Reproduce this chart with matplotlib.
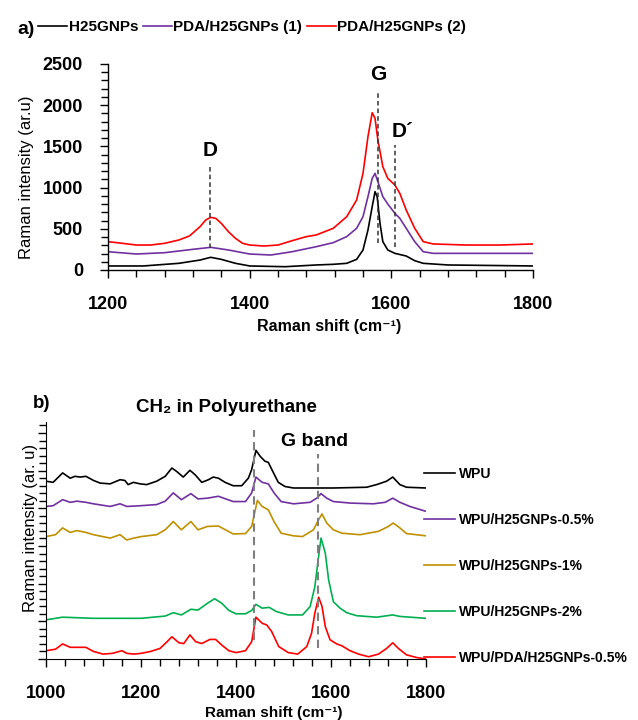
import matplotlib
matplotlib.use("Agg")
import matplotlib.pyplot as plt
from matplotlib.ticker import MultipleLocator, NullFormatter

plt.rcParams['font.family'] = ['Liberation Sans', 'DejaVu Sans']

# ---------------- Panel a data ----------------
a_labels = ["H25GNPs", "PDA/H25GNPs (1)", "PDA/H25GNPs (2)"]
a_colors = ["#000000", "#7030A0", "#FF0000"]

a_black_x = [1200, 1250, 1300, 1330, 1345, 1360, 1380, 1400, 1450, 1494, 1518, 1537, 1551,
             1560, 1567, 1573, 1577, 1580, 1584, 1588, 1595, 1605, 1621, 1633, 1645, 1680, 1800]
a_black_y = [49, 49, 81, 121, 154, 129, 81, 49, 40, 61, 69, 81, 129,
             243, 485, 769, 951, 890, 566, 344, 243, 202, 170, 113, 81, 61, 49]

a_purple_x = [1200, 1240, 1280, 1320, 1345, 1370, 1400, 1430, 1460, 1494, 1518, 1537, 1551,
              1560, 1567, 1573, 1577, 1581, 1588, 1595, 1605, 1612, 1621, 1633, 1645, 1659, 1706, 1800]
a_purple_y = [222, 194, 210, 251, 275, 243, 194, 182, 222, 283, 332, 405, 506,
              647, 890, 1112, 1173, 1072, 890, 801, 688, 627, 506, 344, 222, 202, 202, 202]

a_red_x = [1200, 1220, 1240, 1260, 1280, 1300, 1315, 1330, 1338, 1345, 1352, 1360, 1370, 1380,
           1390, 1400, 1420, 1440, 1460, 1480, 1494, 1518, 1537, 1551, 1560, 1567, 1573, 1577,
           1581, 1588, 1595, 1605, 1612, 1621, 1633, 1645, 1659, 1706, 1753, 1800]
a_red_y = [344, 324, 303, 303, 324, 364, 413, 526, 607, 639, 627, 566, 465, 384,
           324, 303, 291, 303, 356, 405, 425, 506, 647, 849, 1173, 1618, 1909, 1840,
           1578, 1254, 1112, 1031, 930, 728, 506, 344, 316, 303, 303, 316]

a_peaks = ["D", "G", "D\u00b4"]
a_peak_pos = [1344, 1581, 1605]
a_peak_line_top = [1274, 2176, 1517]
a_peak_line_bot = [267, 324, 283]
a_peak_text_x = [1344, 1581, 1616]
a_peak_text_y = [1456, 2367, 1678]

# ---------------- Panel b data ----------------
b_labels = ["WPU", "WPU/H25GNPs-0.5%", "WPU/H25GNPs-1%", "WPU/H25GNPs-2%", "WPU/PDA/H25GNPs-0.5%"]
b_colors = ["#000000", "#7030A0", "#BF9000", "#00B050", "#FF0000"]

b_wpu_x = [1000, 1015, 1035, 1051, 1061, 1072, 1084, 1100, 1114, 1135, 1156, 1166, 1173, 1184,
           1198, 1212, 1233, 1251, 1265, 1275, 1289, 1303, 1314, 1328, 1342, 1352, 1363, 1377,
           1394, 1412, 1426, 1433, 1442, 1451, 1461, 1468, 1479, 1489, 1503, 1521, 1577, 1605,
           1675, 1696, 1717, 1730, 1745, 1759, 1800]
b_wpu_y = [4.72, 4.69, 4.94, 4.80, 4.85, 4.83, 4.85, 4.74, 4.67, 4.65, 4.76, 4.74, 4.63, 4.69,
           4.65, 4.63, 4.72, 4.85, 5.07, 4.98, 4.83, 5.01, 4.89, 4.69, 4.76, 4.83, 4.80, 4.69,
           4.60, 4.60, 4.80, 5.03, 5.54, 5.38, 5.25, 5.22, 4.94, 4.69, 4.58, 4.54, 4.54, 4.54,
           4.56, 4.63, 4.72, 4.83, 4.63, 4.56, 4.54]

b_05_x = [1000, 1015, 1035, 1051, 1065, 1084, 1100, 1135, 1156, 1170, 1200, 1233, 1251, 1268,
          1285, 1305, 1320, 1340, 1363, 1394, 1420, 1433, 1442, 1455, 1468, 1480, 1495, 1521,
          1556, 1570, 1579, 1591, 1605, 1640, 1689, 1714, 1730, 1745, 1766, 1800]
b_05_y = [4.05, 4.07, 4.23, 4.16, 4.19, 4.16, 4.12, 4.05, 4.12, 4.05, 4.07, 4.10, 4.19, 4.41,
          4.23, 4.39, 4.25, 4.27, 4.32, 4.18, 4.18, 4.41, 4.83, 4.69, 4.65, 4.41, 4.18, 4.12,
          4.16, 4.27, 4.39, 4.27, 4.18, 4.14, 4.12, 4.16, 4.27, 4.16, 4.05, 3.92]

b_1_x = [1000, 1020, 1035, 1051, 1065, 1084, 1100, 1135, 1156, 1170, 1185, 1200, 1233, 1251,
         1268, 1285, 1305, 1320, 1340, 1363, 1394, 1420, 1433, 1445, 1455, 1468, 1480, 1495,
         1521, 1540, 1563, 1574, 1581, 1591, 1605, 1623, 1661, 1700, 1721, 1731, 1745, 1759, 1800]
b_1_y = [3.25, 3.30, 3.48, 3.36, 3.41, 3.36, 3.30, 3.21, 3.30, 3.16, 3.21, 3.25, 3.30, 3.43,
         3.65, 3.43, 3.65, 3.43, 3.52, 3.53, 3.32, 3.33, 3.52, 4.21, 4.05, 3.96, 3.65, 3.34,
         3.27, 3.25, 3.43, 3.70, 3.85, 3.61, 3.43, 3.34, 3.30, 3.39, 3.52, 3.61, 3.48, 3.33, 3.27]

b_2_x = [1000, 1035, 1100, 1200, 1251, 1268, 1285, 1305, 1320, 1340, 1355, 1370, 1385, 1400,
         1420, 1433, 1442, 1455, 1470, 1485, 1510, 1540, 1556, 1566, 1574, 1579, 1588, 1595,
         1605, 1619, 1633, 1654, 1696, 1730, 1745, 1800]
b_2_y = [1.04, 1.11, 1.08, 1.08, 1.14, 1.23, 1.17, 1.32, 1.30, 1.48, 1.60, 1.48, 1.29, 1.20,
         1.20, 1.29, 1.45, 1.35, 1.37, 1.26, 1.17, 1.17, 1.39, 1.92, 2.73, 3.21, 2.81, 2.10,
         1.52, 1.35, 1.23, 1.15, 1.11, 1.17, 1.13, 1.08]

b_pda_x = [1000, 1020, 1035, 1051, 1070, 1084, 1100, 1120, 1140, 1160, 1170, 1185, 1200, 1220,
           1240, 1255, 1265, 1280, 1290, 1303, 1315, 1328, 1345, 1357, 1370, 1385, 1400, 1420,
           1433, 1442, 1455, 1465, 1475, 1490, 1510, 1530, 1549, 1559, 1566, 1574, 1581, 1588,
           1598, 1612, 1623, 1640, 1658, 1679, 1700, 1717, 1730, 1742, 1759, 1780, 1800]
b_pda_y = [0.22, 0.26, 0.40, 0.31, 0.31, 0.31, 0.20, 0.13, 0.15, 0.22, 0.15, 0.13, 0.15, 0.20,
           0.28, 0.46, 0.59, 0.43, 0.41, 0.64, 0.46, 0.41, 0.52, 0.52, 0.37, 0.22, 0.17, 0.22,
           0.46, 1.11, 0.95, 0.90, 0.73, 0.33, 0.17, 0.13, 0.33, 0.68, 1.22, 1.64, 1.40, 0.86,
           0.51, 0.40, 0.35, 0.22, 0.13, 0.06, 0.13, 0.28, 0.43, 0.28, 0.11, 0.04, 0.00]

b_x_series = [b_wpu_x, b_05_x, b_1_x, b_2_x, b_pda_x]
b_y_series = [b_wpu_y, b_05_y, b_1_y, b_2_y, b_pda_y]

b_mark_pos = [1438, 1572]
b_mark_top = [6.09, 5.43]
b_mark_bot = [0.50, 0.28]

# ---------------- Figure ----------------
fig = plt.figure(figsize=(6.38, 7.2), dpi=100)

axa = fig.add_axes([108/638, 1-270/720, 425/638, 206/720])
for xs, ys, c, lab in zip([a_black_x, a_purple_x, a_red_x], [a_black_y, a_purple_y, a_red_y],
                          a_colors, a_labels):
    axa.plot(xs, ys, color=c, lw=1.2, label=lab)
for p, t, b in zip(a_peak_pos, a_peak_line_top, a_peak_line_bot):
    axa.plot([p, p], [b, t], color="#333333", lw=1.1, ls=(0, (3, 2)))
for s, tx, ty in zip(a_peaks, a_peak_text_x, a_peak_text_y):
    axa.text(tx, ty, s, ha='center', va='center', fontsize=15, fontweight='bold')

axa.set_xlim(1200, 1800)
axa.set_ylim(0, 2500)
axa.xaxis.set_major_locator(MultipleLocator(200))
axa.xaxis.set_minor_locator(MultipleLocator(40))
axa.yaxis.set_major_locator(MultipleLocator(500))
axa.yaxis.set_minor_locator(MultipleLocator(100))
for s in ['top', 'right']:
    axa.spines[s].set_visible(False)
for s in ['left', 'bottom']:
    axa.spines[s].set_linewidth(1.0)
axa.tick_params(which='both', direction='out', width=1.0)
axa.tick_params(which='major', length=6)
axa.tick_params(which='minor', length=5)
axa.tick_params(axis='y', which='major', pad=12, labelsize=13)
axa.tick_params(axis='x', which='major', pad=13, labelsize=13)
for lab in axa.get_xticklabels() + axa.get_yticklabels():
    lab.set_fontweight('bold')
axa.set_ylabel("Raman intensity (ar.u)", fontsize=12)
axa.yaxis.set_label_coords(-0.175, 0.45)
axa.set_xlabel("Raman shift (cm\u207b\u00b9)", fontsize=11.5, fontweight='bold')
axa.xaxis.set_label_coords(0.52, -0.238)
axa.xaxis.label.set_va('top')

fig.text(17/638, 1-30/720, "a)", fontsize=14, fontweight='bold', va='center', ha='left')
fig.legend(*axa.get_legend_handles_labels(), loc='center left',
           bbox_to_anchor=(38/638, 1-27/720), ncol=3, frameon=False,
           handlelength=1.9, handletextpad=0.1, columnspacing=0.3,
           borderpad=0, borderaxespad=0, prop={'weight': 'bold', 'size': 11})

# ---------------- Panel b ----------------
axb = fig.add_axes([46/638, 1-659/720, 380/638, 237.3/720])
for xs, ys, c, lab in zip(b_x_series, b_y_series, b_colors, b_labels):
    axb.plot(xs, ys, color=c, lw=1.2, label=lab)
for p, t, b in zip(b_mark_pos, b_mark_top, b_mark_bot):
    axb.plot([p, p], [b, t], color="#7f7f7f", lw=1.5, ls=(0, (4, 2.5)))

axb.text(1379, 6.68, "CH\u2082 in Polyurethane", ha='center', va='center',
         fontsize=13.5, fontweight='bold', clip_on=False)
axb.text(1566, 5.78, "G band", ha='center', va='center', fontsize=14, fontweight='bold')

axb.set_xlim(1000, 1800)
axb.set_ylim(0, 6.3)
axb.xaxis.set_major_locator(MultipleLocator(200))
axb.xaxis.set_minor_locator(MultipleLocator(40))
axb.yaxis.set_major_locator(MultipleLocator(1))
axb.yaxis.set_minor_locator(MultipleLocator(0.2))
axb.yaxis.set_major_formatter(NullFormatter())
for s in ['top', 'right']:
    axb.spines[s].set_visible(False)
axb.tick_params(which='both', direction='out', width=1.0)
axb.tick_params(which='major', length=6)
axb.tick_params(which='minor', length=5)
axb.tick_params(axis='x', which='major', pad=13, labelsize=13)
for lab in axb.get_xticklabels():
    lab.set_fontweight('bold')
axb.set_ylabel("Raman intensity (ar. u)", fontsize=12)
axb.yaxis.set_label_coords(-0.022, 0.552)
axb.set_xlabel("Raman shift (cm\u207b\u00b9)", fontsize=11, fontweight='bold')
axb.xaxis.set_label_coords(0.6, -0.198)
axb.xaxis.label.set_va('top')

fig.text(33/638, 1-403/720, "b)", fontsize=13.5, fontweight='bold', va='center', ha='left')
axb.legend(loc='upper left', bbox_to_anchor=(424/638, 1-467/720),
           bbox_transform=fig.transFigure, frameon=False, handlelength=2.2,
           handletextpad=0.3, labelspacing=2.3, borderpad=0, borderaxespad=0,
           prop={'weight': 'bold', 'size': 10})

fig.savefig("out.png", dpi=100)
